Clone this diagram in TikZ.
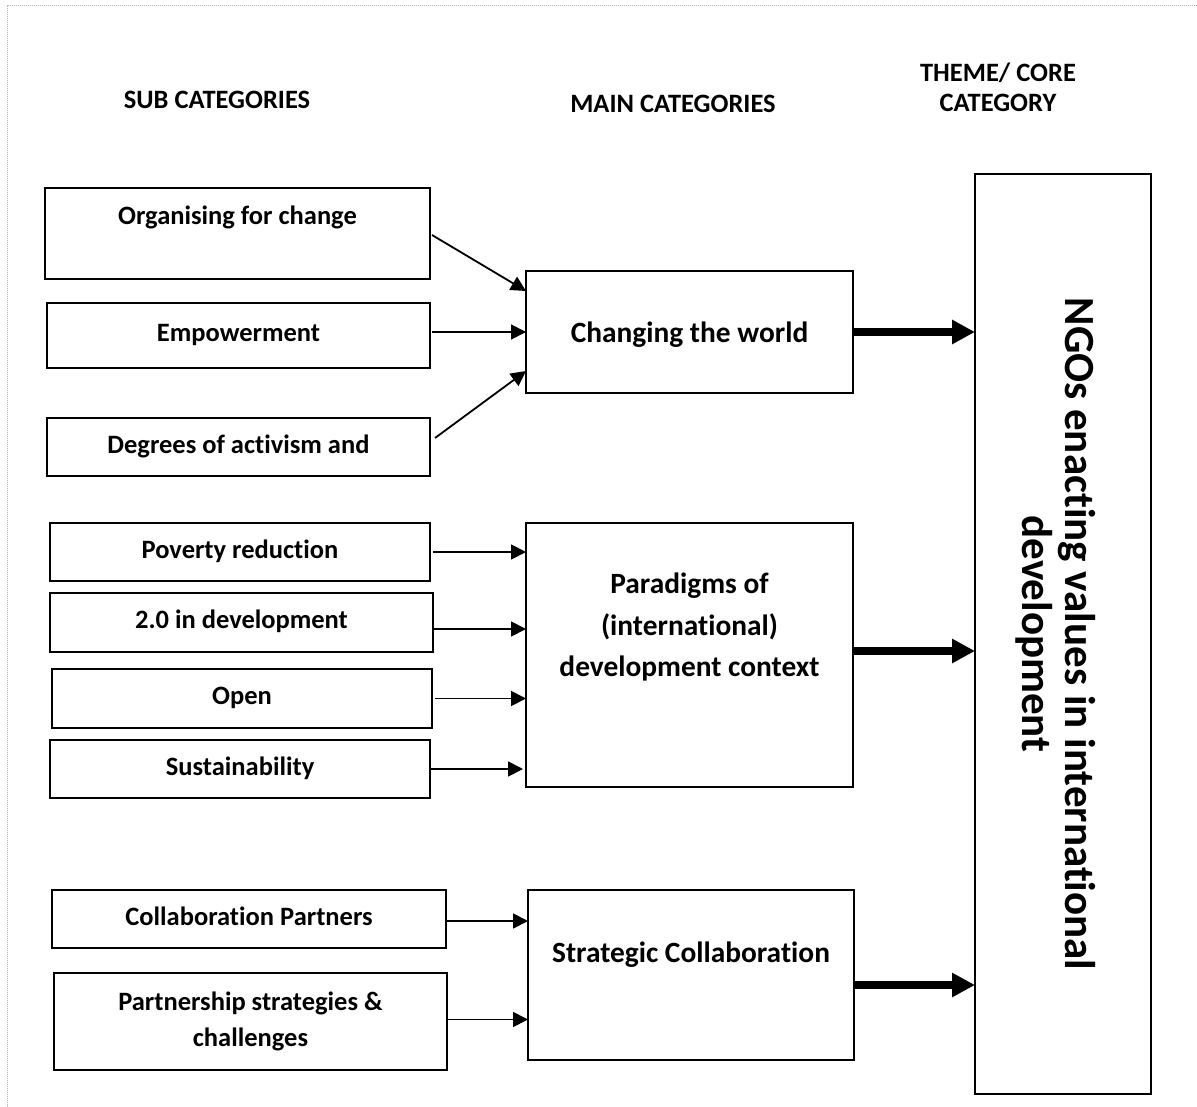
\documentclass[tikz,border=0pt]{standalone}
\usepackage{fontspec}
\setmainfont{Carlito}[Ligatures=NoCommon]
\usepackage{graphicx}
\usetikzlibrary{arrows.meta,calc}

% text block raised by #1 inside its box, with no height of its own
\newcommand\liftby[2]{\raisebox{#1}[0pt][0pt]{\begin{tabular}{@{}c@{}}#2\end{tabular}}}

\begin{document}
\begin{tikzpicture}[x=1pt,y=-1pt,
  every node/.style={font=\bfseries\fontsize{26.5}{38}\selectfont, inner sep=0pt, outer sep=0pt},
  bx/.style={draw, line width=1.8pt, rectangle},
  mainfont/.style={font=\bfseries\fontsize{29.4}{38}\selectfont},
  wh/.style 2 args={minimum width=#1pt, minimum height=#2pt},
  oneline/.style={text height=18pt, text depth=6pt},
  feed/.style={line width=1.8pt, -{Triangle[length=15pt,width=15pt]}},
  flow/.style={line width=7.5pt, -{Triangle[length=23pt,width=23pt]}},
  frame/.style={draw=gray!60, line width=1pt, dash pattern=on 1pt off 1pt}
]
\useasboundingbox (0,0) rectangle (1197,1107);

% page frame
\draw[frame] (7,1107) -- (7,6) -- (1197,6);

% column headings
\node (hsub)  at (217,100) {SUB CATEGORIES};
\node (hmain) at (673,104) {MAIN CATEGORIES};
\node[align=center, font=\bfseries\fontsize{26.5}{30}\selectfont] (htheme) at (998,87) {THEME/ CORE\\CATEGORY};

% sub categories
\node[bx, wh={385}{91}] (o1) at (237.5,233.5) {\liftby{10pt}{Organising for change}};
\node[bx, wh={383}{65}, oneline] (em) at (238.5,335.5) {Empowerment};
\node[bx, wh={383}{58}, oneline] (dg) at (238.5,447) {Degrees of activism and};

\node[bx, wh={380}{58}, oneline] (pr) at (240,552) {Poverty reduction};
\node[bx, wh={383}{59}, oneline] (td) at (241.5,622.5) {2.0 in development};
\node[bx, wh={380}{59}, oneline] (op) at (242,698.5) {Open};
\node[bx, wh={380}{58}, oneline] (su) at (240,769) {Sustainability};

\node[bx, wh={394}{58}, oneline] (cp) at (249,919) {Collaboration Partners};
\node[bx, wh={393}{97}] (ps) at (250.5,1021.5) {\liftby{-6pt}{Partnership strategies \&\\[-2pt]challenges}};

% main categories
\node[bx, mainfont, wh={327}{122}, text height=24pt, text depth=3pt] (ca) at (689.5,332) {Changing the world};
\node[bx, mainfont, wh={327}{264}] (pa) at (689.5,655) {\liftby{21pt}{Paradigms of\\[3.5pt](international)\\[3.5pt]development context}};
\node[bx, mainfont, wh={326}{170}] (sc) at (691,975) {\liftby{14pt}{Strategic Collaboration}};

% core category
\node[bx, wh={176}{920}] (core) at (1063,634)
  {\fontsize{43}{43}\selectfont\rotatebox{-90}{\begin{tabular}{@{}c@{}}NGOs enacting values in international\\development\end{tabular}}\hspace*{20pt}};

% sub -> main
\draw[feed] ([xshift=2pt,yshift=-1.5pt]o1.east) -- ([yshift=41pt]ca.west);
\draw[feed] ([xshift=2pt,yshift=3.5pt]em.east) -- (ca.west);
\draw[feed] ([xshift=5pt,yshift=9pt]dg.east) -- ([yshift=-39pt]ca.west);

\coordinate (pro) at ([xshift=3pt]pr.east);
\coordinate (tdo) at ([xshift=1pt,yshift=-6.5pt]td.east);
\coordinate (opo) at ([xshift=3pt]op.east);
\coordinate (suo) at (su.east);
\draw[feed] (pro) -- (pro -| pa.west);
\draw[feed] (tdo) -- (tdo -| pa.west);
\draw[feed] (opo) -- (opo -| pa.west);
\draw[feed] (suo) -- ([xshift=-3pt]suo -| pa.west);

\coordinate (cpo) at ([xshift=1pt,yshift=-2pt]cp.east);
\coordinate (pso) at ([yshift=2pt]ps.east);
\draw[feed] (cpo) -- (cpo -| sc.west);
\draw[feed] (pso) -- (pso -| sc.west);

% main -> core
\coordinate (pao) at ([yshift=4pt]pa.east);
\coordinate (sco) at ([yshift=-10pt]sc.east);
\draw[flow] (ca.east) -- (ca.east -| core.west);
\draw[flow] (pao) -- (pao -| core.west);
\draw[flow] (sco) -- (sco -| core.west);
\end{tikzpicture}
\end{document}
